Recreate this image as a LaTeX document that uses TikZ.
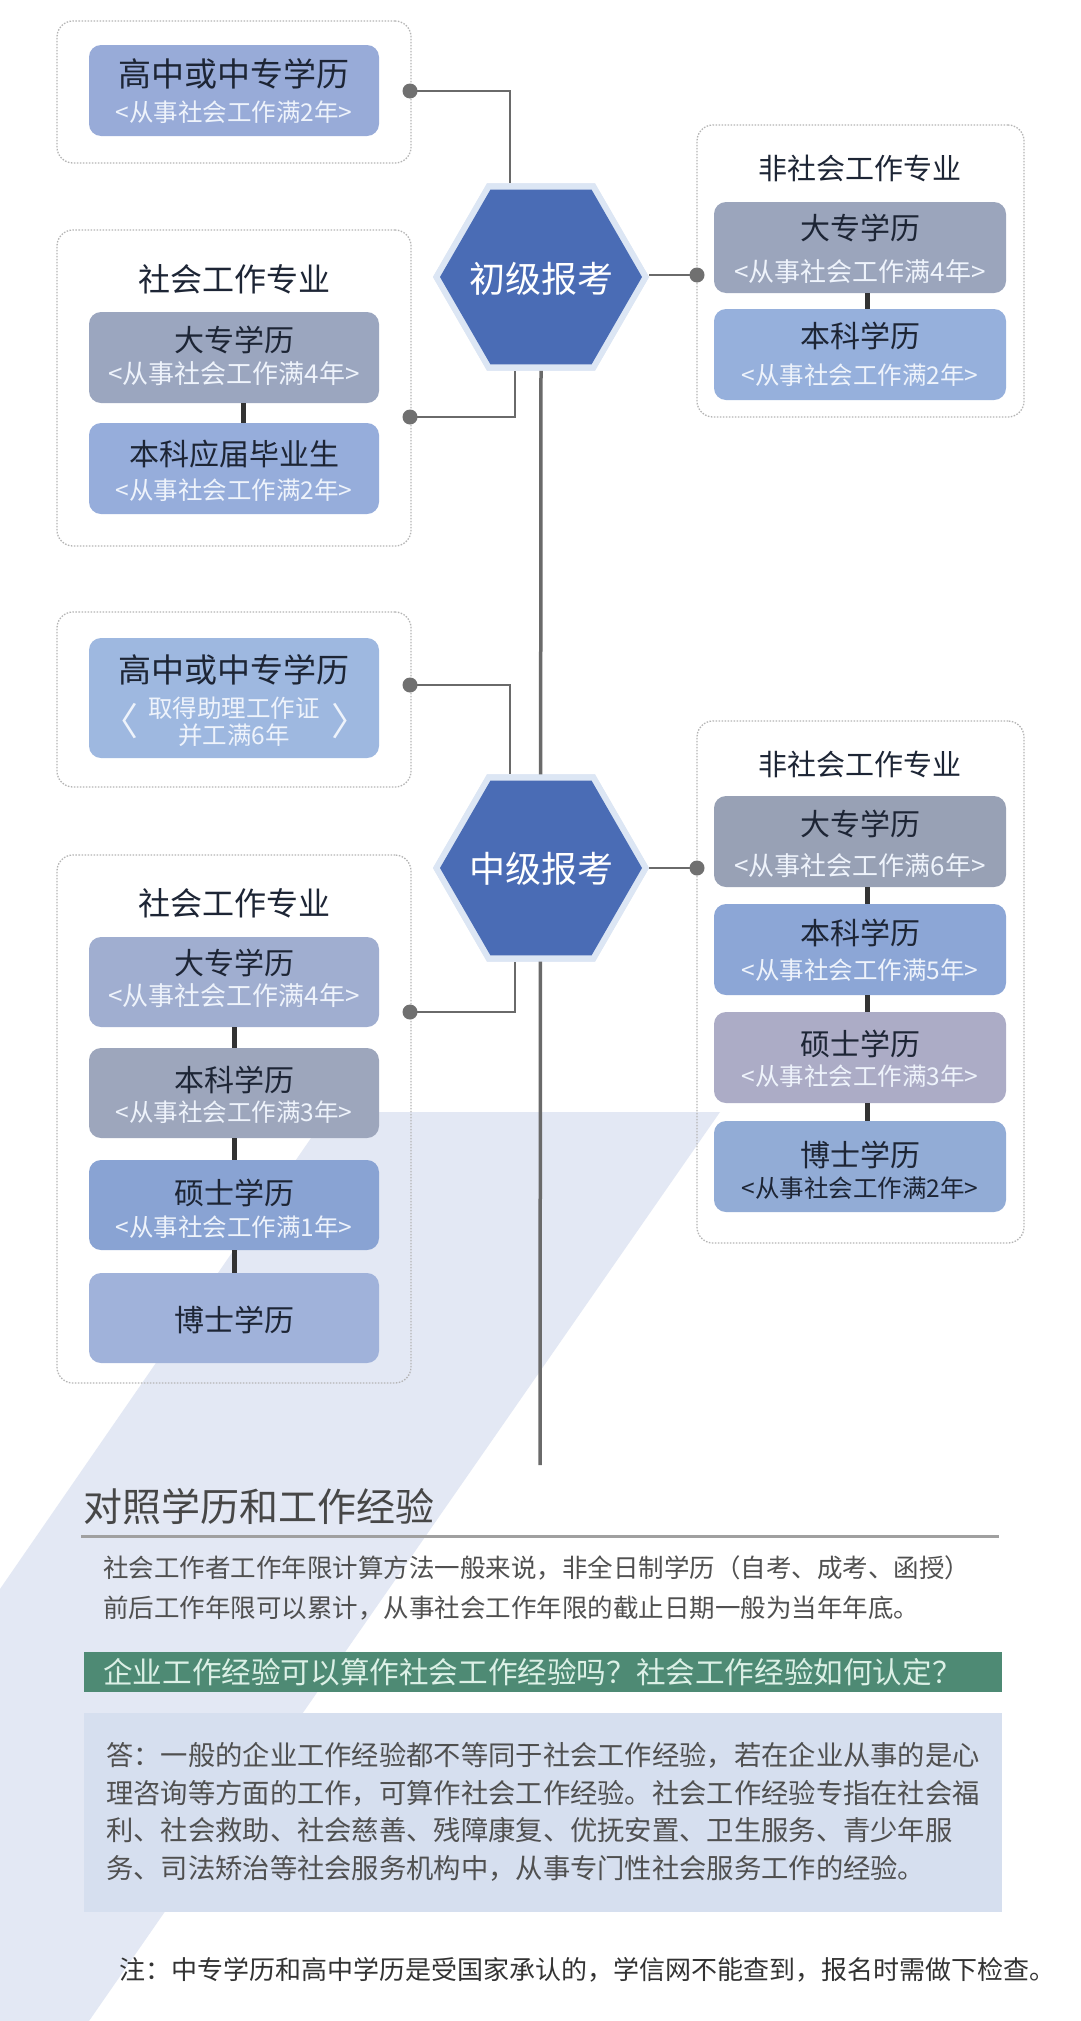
\documentclass[tikz,border=0pt]{standalone}
\usepackage{fontspec}
\setmainfont{Noto Sans CJK SC}
\usetikzlibrary{shapes.geometric,calc}
\definecolor{bandc}{HTML}{E3E8F4}
\definecolor{dotline}{HTML}{B4B4B4}
\definecolor{connc}{HTML}{6A6A6A}
\definecolor{dotc}{HTML}{707070}
\definecolor{hexblue}{HTML}{4A6CB5}
\definecolor{glowc}{HTML}{DCE6F4}
\definecolor{ttlc}{HTML}{1D2535}
\definecolor{subc}{HTML}{EEF3FB}
\definecolor{cAa}{HTML}{98ABD8}
\definecolor{cAb}{HTML}{9BA6BF}
\definecolor{cAc}{HTML}{96ADDB}
\definecolor{cBa}{HTML}{9EB8E0}
\definecolor{cCa}{HTML}{A0AED0}
\definecolor{cCb}{HTML}{9DA6BC}
\definecolor{cCc}{HTML}{89A3D3}
\definecolor{cCd}{HTML}{A0B2DA}
\definecolor{cRa}{HTML}{9BA5BC}
\definecolor{cRb}{HTML}{96B0DC}
\definecolor{cDa}{HTML}{98A1B5}
\definecolor{cDb}{HTML}{8CA6D6}
\definecolor{cDc}{HTML}{ACACC6}
\definecolor{cDd}{HTML}{92ACD6}
\definecolor{greenc}{HTML}{4E8A74}
\definecolor{greentext}{HTML}{DCF0E6}
\definecolor{ansc}{HTML}{D6DFEF}
\definecolor{bodyc}{HTML}{505050}
\definecolor{rulec}{HTML}{A0A0A0}
\begin{document}
\begin{tikzpicture}[x=1pt,y=-1pt,
  dotbox/.style={draw=dotline, line width=1.3pt, dash pattern=on 1.5pt off 1.5pt, rounded corners=16pt, inner sep=0pt},
  edubox/.style={rounded corners=12pt, minimum width=290pt, minimum height=91pt, inner sep=0pt},
  redubox/.style={edubox, minimum width=292pt},
  ttl/.style={inner sep=0pt, text=ttlc, font=\fontsize{30}{34}\selectfont},
  bigttl/.style={inner sep=0pt, text=ttlc, font=\fontsize{33}{36}\selectfont},
  subw/.style={inner sep=0pt, text=subc, font=\fontsize{26}{30}\selectfont},
  subn/.style={inner sep=0pt, text=subc, font=\fontsize{24.5}{28}\selectfont},
  grpttl/.style={inner sep=0pt, text=ttlc, font=\fontsize{32}{36}\selectfont},
  rgrpttl/.style={inner sep=0pt, text=ttlc, font=\fontsize{29}{33}\selectfont},
  conn/.style={draw=connc, line width=2.5pt},
  mainline/.style={draw=connc, line width=3.5pt},
  stackc/.style={draw=black!80, line width=5pt},
  dotn/.style={circle, fill=dotc, minimum size=15pt, inner sep=0pt},
  hexmain/.style={regular polygon, regular polygon sides=6, minimum size=202pt, inner sep=0pt, outer sep=0pt, fill=hexblue},
  hexglow/.style={regular polygon, regular polygon sides=6, minimum size=216pt, inner sep=0pt, outer sep=0pt, fill=glowc},
  hextxt/.style={inner sep=0pt, text=white, font=\fontsize{36}{40}\selectfont},
  bodytxt/.style={inner sep=0pt, anchor=west, text=bodyc, font=\fontsize{25.5}{30}\selectfont},
  anstxt/.style={inner sep=0pt, anchor=west, text=bodyc, font=\fontsize{27.3}{32}\selectfont}
]
\useasboundingbox (0,0) rectangle (1080,2021);
\fill[white] (0,0) rectangle (1080,2021);
% background band
\fill[bandc] (329,1112) -- (720,1112) -- (89,2021) -- (0,2021) -- (0,1589) -- cycle;

% dotted group boxes
\node[dotbox, minimum width=354pt, minimum height=142pt] (G1) at (234,92) {};
\node[dotbox, minimum width=354pt, minimum height=316pt] (G2) at (234,388) {};
\node[dotbox, minimum width=354pt, minimum height=175pt] (G3) at (234,699.5) {};
\node[dotbox, minimum width=354pt, minimum height=528pt] (G4) at (234,1119) {};
\node[dotbox, minimum width=327pt, minimum height=292pt] (G5) at (860.5,271) {};
\node[dotbox, minimum width=327pt, minimum height=522pt] (G6) at (860.5,982) {};

% connector points
\coordinate (p1) at (410,91);
\coordinate (j1) at (510,91);
\coordinate (p2) at (410,417);
\coordinate (j2) at (515,417);
\coordinate (p3) at (410,685);
\coordinate (j3) at (510,685);
\coordinate (p4) at (410,1012);
\coordinate (j4) at (515,1012);
\coordinate (p5) at (697,275);
\coordinate (p6) at (697,868);
\coordinate (hc1) at (541,277);
\coordinate (hc2) at (541,868);
\coordinate (mainend) at (540,1465);

% hexagon glow (for anchors)
\node[hexglow] (hex1bg) at (hc1) {};
\node[hexglow] (hex2bg) at (hc2) {};

% connectors
\draw[mainline] (hex1bg.south) -- (mainend);
\draw[conn] (p1) -- (j1) -- (j1 |- hex1bg.north);
\draw[conn] (p2) -- (j2) -- (j2 |- hex1bg.south);
\draw[conn] (p3) -- (j3) -- (j3 |- hex2bg.north);
\draw[conn] (p4) -- (j4) -- (j4 |- hex2bg.south);
\draw[conn] (hex1bg.east |- p5) -- (p5);
\draw[conn] (hex2bg.east) -- (p6);

% hexagons
\node[hexglow] (hex1g) at (hc1) {};
\node[hexmain] (hex1) at (hc1) {};
\node[hextxt] (hex1t) at ($(hc1)+(0,2)$) {初级报考};
\node[hexglow] (hex2g) at (hc2) {};
\node[hexmain] (hex2) at (hc2) {};
\node[hextxt] (hex2t) at ($(hc2)+(0,1)$) {中级报考};

% group titles
\node[grpttl] (G2t) at (234,279) {社会工作专业};
\node[grpttl] (G4t) at (234,903) {社会工作专业};
\node[rgrpttl] (G5t) at (860,168) {非社会工作专业};
\node[rgrpttl] (G6t) at (860,764) {非社会工作专业};

% left column nodes
\node[edubox, fill=cAa] (A1) at (234,90.5) {};
\node[bigttl] (A1t) at ($(A1.center)+(0,-17)$) {高中或中专学历};
\node[subn] (A1s) at ($(A1.center)+(0,22)$) {<从事社会工作满2年>};

\node[edubox, fill=cAb] (A2) at (234,357.5) {};
\node[ttl] (A2t) at ($(A2.center)+(0,-18)$) {大专学历};
\node[subw] (A2s) at ($(A2.center)+(0,16)$) {<从事社会工作满4年>};

\node[edubox, fill=cAc] (A3) at (234,468.5) {};
\node[ttl] (A3t) at ($(A3.center)+(0,-14)$) {本科应届毕业生};
\node[subn] (A3s) at ($(A3.center)+(0,22)$) {<从事社会工作满2年>};

\node[edubox, fill=cBa, minimum height=120pt] (B1) at (234,698) {};
\node[bigttl] (B1t) at ($(B1.center)+(0,-28)$) {高中或中专学历};
\node[subn] (B1s) at ($(B1.center)+(0,10)$) {取得助理工作证};
\node[subn] (B1u) at ($(B1.center)+(0,37)$) {并工满6年};
\node[inner sep=0pt, text=subc, font=\fontsize{38}{42}\selectfont] (B1l) at (119,721) {〈};
\node[inner sep=0pt, text=subc, font=\fontsize{38}{42}\selectfont] (B1r) at (350,721) {〉};

\node[edubox, fill=cCa, minimum height=90pt] (C1) at (234,982) {};
\node[ttl] (C1t) at ($(C1.center)+(0,-19)$) {大专学历};
\node[subw] (C1s) at ($(C1.center)+(0,14)$) {<从事社会工作满4年>};

\node[edubox, fill=cCb, minimum height=90pt] (C2) at (234,1093) {};
\node[ttl] (C2t) at ($(C2.center)+(0,-13)$) {本科学历};
\node[subn] (C2s) at ($(C2.center)+(0,19)$) {<从事社会工作满3年>};

\node[edubox, fill=cCc, minimum height=90pt] (C3) at (234,1205) {};
\node[ttl] (C3t) at ($(C3.center)+(0,-12)$) {硕士学历};
\node[subn] (C3s) at ($(C3.center)+(0,22)$) {<从事社会工作满1年>};

\node[edubox, fill=cCd, minimum height=90pt] (C4) at (234,1318) {};
\node[ttl] (C4t) at ($(C4.center)+(0,2)$) {博士学历};

% right column nodes
\node[redubox, fill=cRa] (R1) at (860,247.5) {};
\node[ttl] (R1t) at ($(R1.center)+(0,-20)$) {大专学历};
\node[subw] (R1s) at ($(R1.center)+(0,24)$) {<从事社会工作满4年>};

\node[redubox, fill=cRb] (R2) at (860,354.5) {};
\node[ttl] (R2t) at ($(R2.center)+(0,-19)$) {本科学历};
\node[subn] (R2s) at ($(R2.center)+(0,21)$) {<从事社会工作满2年>};

\node[redubox, fill=cDa] (D1) at (860,841.5) {};
\node[ttl] (D1t) at ($(D1.center)+(0,-18)$) {大专学历};
\node[subw] (D1s) at ($(D1.center)+(0,24)$) {<从事社会工作满6年>};

\node[redubox, fill=cDb] (D2) at (860,949.5) {};
\node[ttl] (D2t) at ($(D2.center)+(0,-17)$) {本科学历};
\node[subn] (D2s) at ($(D2.center)+(0,21)$) {<从事社会工作满5年>};

\node[redubox, fill=cDc] (D3) at (860,1057.5) {};
\node[ttl] (D3t) at ($(D3.center)+(0,-14)$) {硕士学历};
\node[subn] (D3s) at ($(D3.center)+(0,19)$) {<从事社会工作满3年>};

\node[redubox, fill=cDd] (D4) at (860,1166.5) {};
\node[ttl] (D4t) at ($(D4.center)+(0,-12)$) {博士学历};
\node[subn, text=ttlc] (D4s) at ($(D4.center)+(0,22)$) {<从事社会工作满2年>};

% stack connectors
\draw[stackc] ($(A2.south)+(9,0)$) -- ($(A3.north)+(9,0)$);
\draw[stackc] (C1.south) -- (C2.north);
\draw[stackc] (C2.south) -- (C3.north);
\draw[stackc] (C3.south) -- (C4.north);
\draw[stackc] ($(R1.south)+(7,0)$) -- ($(R2.north)+(7,0)$);
\draw[stackc] ($(D1.south)+(7,0)$) -- ($(D2.north)+(7,0)$);
\draw[stackc] ($(D2.south)+(7,0)$) -- ($(D3.north)+(7,0)$);
\draw[stackc] ($(D3.south)+(7,0)$) -- ($(D4.north)+(7,0)$);

% dots
\node[dotn] (dot1) at (p1) {};
\node[dotn] (dot2) at (p2) {};
\node[dotn] (dot3) at (p3) {};
\node[dotn] (dot4) at (p4) {};
\node[dotn] (dot5) at (p5) {};
\node[dotn] (dot6) at (p6) {};

% bottom section
\node[inner sep=0pt, anchor=west, text=black!72, font=\fontsize{39}{44}\selectfont] (sumt) at (83,1507) {对照学历和工作经验};
\coordinate (ru1) at (81,1536);
\coordinate (ru2) at (999,1536);
\draw[draw=rulec, line width=3pt] (ru1) -- (ru2);
\node[bodytxt] (pl1) at (103,1568) {社会工作者工作年限计算方法一般来说，非全日制学历（自考、成考、函授）};
\node[bodytxt] (pl2) at (103,1608) {前后工作年限可以累计，从事社会工作年限的截止日期一般为当年年底。};

\node[fill=greenc, minimum width=918pt, minimum height=40pt, inner sep=0pt, anchor=north west] (qbar) at (84,1652) {};
\node[inner sep=0pt, anchor=west, text=greentext, font=\fontsize{29.6}{33}\selectfont] (qtxt) at (103,1672) {企业工作经验可以算作社会工作经验吗？社会工作经验如何认定？};

\node[fill=ansc, minimum width=918pt, minimum height=199pt, inner sep=0pt, anchor=north west] (abox) at (84,1713) {};
\node[anstxt] (al1) at (106,1755) {答：一般的企业工作经验都不等同于社会工作经验，若在企业从事的是心};
\node[anstxt] (al2) at (106,1793) {理咨询等方面的工作，可算作社会工作经验。社会工作经验专指在社会福};
\node[anstxt] (al3) at (106,1830) {利、社会救助、社会慈善、残障康复、优抚安置、卫生服务、青少年服};
\node[anstxt] (al4) at (106,1868) {务、司法矫治等社会服务机构中，从事专门性社会服务工作的经验。};

\node[inner sep=0pt, anchor=west, text=black!80, font=\fontsize{26}{30}\selectfont] (note) at (119,1970) {注：中专学历和高中学历是受国家承认的，学信网不能查到，报名时需做下检查。};
\end{tikzpicture}
\end{document}
